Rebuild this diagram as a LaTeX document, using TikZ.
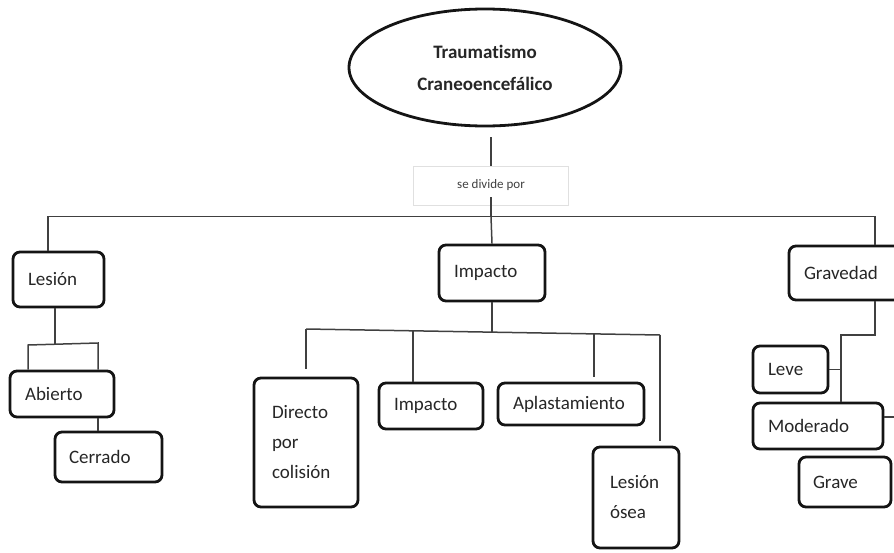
\documentclass[tikz,border=0pt]{standalone}
\usepackage{fontspec}
\setmainfont[Ligatures=NoCommon]{Carlito}
\usetikzlibrary{shapes.geometric}
\begin{document}
\begin{tikzpicture}[x=1pt,y=-1pt,
  box/.style={draw=black!92, line width=2.8pt, rounded corners=7pt, align=left,
    inner xsep=15pt, inner ysep=0pt, font=\fontsize{19}{30}\selectfont, text=black!85},
  conn/.style={draw=black!75, line width=1.5pt},
  titlenode/.style={ellipse, draw=black!92, line width=2.8pt, minimum width=272pt,
    minimum height=117pt, inner sep=0pt, align=center,
    font=\fontsize{19}{32}\selectfont\bfseries, text=black!85},
  divnode/.style={draw=black!12, line width=0.6pt, minimum width=155pt, minimum height=39pt,
    inner sep=0pt, font=\fontsize{13}{15}\selectfont, text=black!75}]
\useasboundingbox (0,0) rectangle (894,552);

% nodes
\node[titlenode] (title) at (485,67.5) {Traumatismo\\Craneoencefálico};
\node[divnode] (divbox) at (491,185.5) {se divide por};

\node[box, text width=61pt, minimum height=55pt] (lesion) at (58.5,279.5) {Lesión};
\node[box, text width=74pt, minimum height=46pt] (abierto) at (62,394) {Abierto};
\node[box, text width=79pt, inner xsep=14pt, minimum height=50pt] (cerrado) at (108.5,457) {Cerrado};

\node[box, text width=76pt, minimum height=56pt] (impacto) at (492,273) {Impacto};
\node[box, text width=68pt, inner xsep=18pt, minimum height=129pt] (directo) at (306,442.5) {Directo\\por\\colisión};
\node[box, text width=74pt, minimum height=46pt] (impacto2) at (431,406) {Impacto};
\node[box, text width=116pt, minimum height=42pt] (aplast) at (571,404) {Aplastamiento};
\node[box, text width=52pt, inner xsep=17pt, minimum height=101pt] (lesosea) at (636,497.5) {Lesión\\ósea};

\node[box, text width=86pt, minimum height=54pt] (gravedad) at (847,273) {Gravedad};
\node[box, text width=45pt, minimum height=47pt] (leve) at (790.5,369.5) {Leve};
\node[box, text width=100pt, minimum height=46pt] (moderado) at (818,426) {Moderado};
\node[box, text width=64pt, inner xsep=14pt, minimum height=50pt] (grave) at (845,482) {Grave};

% coordinates
\coordinate (hub) at (491,216.5);
\coordinate (mainL) at (48,216.5);
\coordinate (mainR) at (875,216.5);
\coordinate (lj) at (55,344);
\coordinate (la) at (28,345);
\coordinate (lb) at (98,343);
\coordinate (ia) at (306,329);
\coordinate (ib) at (413,330.8);
\coordinate (ij) at (492,332.2);
\coordinate (ic) at (594,333.9);
\coordinate (id) at (660,335);
\coordinate (g1) at (875,335);
\coordinate (g2) at (841,335);
\coordinate (mr) at (900,417);

% connectors
\draw[conn, shorten <=10pt] (divbox.north |- title.south) -- (divbox.north);
\draw[conn] (divbox.south) ++(0,-8) -- (hub);
\draw[conn] (lesion.north -| mainL) -- (mainL) -- (mainR) -- (gravedad.north -| mainR);
\draw[conn] (hub) -- (impacto.north);

\draw[conn] (lesion.south -| lj) -- (lj);
\draw[conn] (abierto.north -| la) -- (la) -- (lb) -- (abierto.north -| lb);
\draw[conn] (abierto.south -| lb) -- (cerrado.north -| lb);

\draw[conn] (impacto.south) -- (ij);
\draw[conn] (ia) -- (id);
\draw[conn, shorten >=8pt] (ia) -- (directo.north -| ia);
\draw[conn] (ib) -- (impacto2.north -| ib);
\draw[conn, shorten >=5pt] (ic) -- (aplast.north -| ic);
\draw[conn, shorten >=5pt] (id) -- (lesosea.north -| id);

\draw[conn] (gravedad.south -| g1) -- (g1) -- (g2) -- (moderado.north -| g2);
\draw[conn] (leve.east) -- (leve.east -| g2);
\draw[conn] (moderado.north east |- mr) -- (mr);
\end{tikzpicture}
\end{document}
